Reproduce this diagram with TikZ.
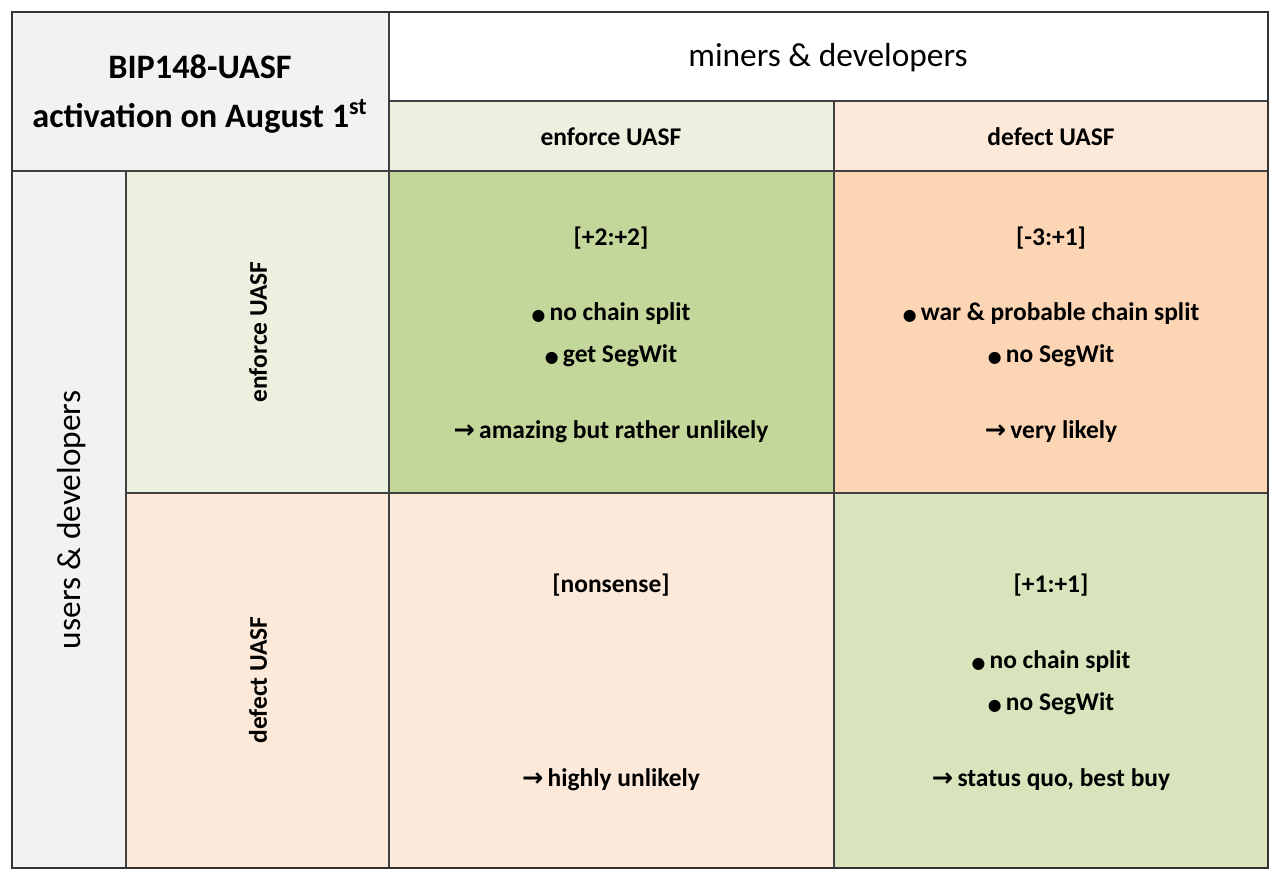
\documentclass[tikz,border=0pt]{standalone}
\usepackage{fontspec}
\setmainfont{Carlito}
\newfontfamily\symfont{DejaVu Sans}
\usetikzlibrary{positioning}
\definecolor{hdgray}{HTML}{F2F2F2}
\definecolor{lgreen}{HTML}{EBF1DE}
\definecolor{lorange}{HTML}{FDE9D9}
\definecolor{mgreen}{HTML}{C4D79B}
\definecolor{sgreen}{HTML}{D8E4BC}
\definecolor{morange}{HTML}{FCD5B4}
\newcommand{\bul}{{\symfont\small ●}\,}
\newcommand{\arr}{{\symfont →}\,}
\tikzset{
  cellbox/.style={draw=black!75, line width=0.8pt},
  celltext/.style={font=\bfseries\fontsize{14.5}{21}\selectfont, align=center},
}
\begin{document}
\begin{tikzpicture}[x=0.02cm, y=-0.02cm]
  \useasboundingbox (0,0) rectangle (1280,880);
  % cells
  \filldraw[cellbox, fill=hdgray] (12,12) rectangle (389,171);
  \filldraw[cellbox, fill=white] (389,12) rectangle (1268,101);
  \filldraw[cellbox, fill=lgreen] (389,101) rectangle (834,171);
  \filldraw[cellbox, fill=lorange] (834,101) rectangle (1268,171);
  \filldraw[cellbox, fill=hdgray] (12,171) rectangle (126,868);
  \filldraw[cellbox, fill=lgreen] (126,171) rectangle (389,493);
  \filldraw[cellbox, fill=lorange] (126,493) rectangle (389,868);
  \filldraw[cellbox, fill=mgreen] (389,171) rectangle (834,493);
  \filldraw[cellbox, fill=morange] (834,171) rectangle (1268,493);
  \filldraw[cellbox, fill=lorange] (389,493) rectangle (834,868);
  \filldraw[cellbox, fill=sgreen] (834,493) rectangle (1268,868);
  \draw[line width=1.2pt, black!80] (12,12) rectangle (1268,868);

  % headers
  \node[celltext, font=\bfseries\fontsize{19.5}{28}\selectfont] (title) at (200,94) {BIP148-UASF\\activation on August 1\textsuperscript{st}};
  \node[font=\fontsize{19}{22}\selectfont] (miners) at (828,58) {miners \& developers};
  \node[celltext] (menf) at (611,137) {enforce UASF};
  \node[celltext] (mdef) at (1051,137) {defect UASF};
  \node[font=\fontsize{19}{22}\selectfont, rotate=90] (users) at (72,520) {users \& developers};
  \node[celltext, rotate=90] (uenf) at (258,332) {enforce UASF};
  \node[celltext, rotate=90] (udef) at (258,680) {defect UASF};

  % outcomes
  \node[celltext] (ee) at (611,238) {[+2:+2]};
  \node[celltext] (eetxt) at (611,335) {\bul no chain split\\[3pt]\bul get SegWit};
  \node[celltext] (eeres) at (611,432) {\arr amazing but rather unlikely};

  \node[celltext] (ed) at (1051,238) {[-3:+1]};
  \node[celltext] (edtxt) at (1051,335) {\bul war \& probable chain split\\[3pt]\bul no SegWit};
  \node[celltext] (edres) at (1051,432) {\arr very likely};

  \node[celltext] (de) at (611,585) {[nonsense]};
  \node[celltext] (deres) at (611,780) {\arr highly unlikely};

  \node[celltext] (dd) at (1051,585) {[+1:+1]};
  \node[celltext] (ddtxt) at (1051,683) {\bul no chain split\\[3pt]\bul no SegWit};
  \node[celltext] (ddres) at (1051,780) {\arr status quo, best buy};
\end{tikzpicture}
\end{document}
